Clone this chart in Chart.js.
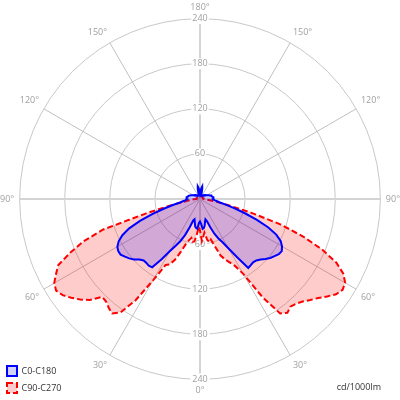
<!DOCTYPE html>
<html>
<head>
<meta charset="utf-8">
<script src="https://cdn.jsdelivr.net/npm/chart.js@4/dist/chart.umd.min.js"></script>
<style>
  html, body { margin: 0; padding: 0; background: #fff; }
  #wrap { width: 400px; height: 400px; }
</style>
</head>
<body>
<div id="wrap"><canvas id="polarChart"></canvas></div>
<script>
// gamma angle in degrees: 0 = straight down, 180 = straight up
const gamma = [0, 2.5, 5, 7.5, 10, 12.5, 15, 17.5, 20, 22.5,
  25, 27.5, 30, 32.5, 35, 37.5, 40, 42.5, 45, 47.5,
  50, 52.5, 55, 57.5, 60, 62.5, 65, 67.5, 70, 72.5,
  75, 77.5, 80, 82.5, 85, 87.5, 90, 92.5, 95, 97.5,
  100, 102.5, 105, 107.5, 110, 112.5, 115, 117.5, 120, 122.5,
  125, 127.5, 130, 132.5, 135, 137.5, 140, 142.5, 145, 147.5,
  150, 152.5, 155, 157.5, 160, 162.5, 165, 167.5, 170, 172.5,
  175, 177.5, 180];

// intensities in cd/1000lm, one value per gamma
const c0 = [30, 33, 40, 39, 36, 31, 28, 31, 40, 50,
  58, 65, 76, 92, 112, 111, 110, 111, 114, 118,
  122, 125, 128, 129, 126, 121, 112, 98, 80, 62,
  47, 36, 27, 23, 20, 18, 17, 18, 18, 18,
  17, 16, 16, 16, 14, 13, 12, 11, 10, 9,
  9, 8, 8, 7, 7, 6, 6, 6, 5, 5,
  5, 5, 5, 5, 5, 6, 9, 14, 17, 15,
  12, 9, 7];
const c180 = [30, 32, 40, 39, 37, 32, 28, 30, 40, 52,
  62, 70, 80, 95, 111, 112, 111, 111, 114, 119,
  123, 126, 129, 129, 127, 122, 114, 102, 85, 66,
  50, 37, 27, 23, 20, 18, 17, 18, 18, 18,
  17, 16, 16, 15, 14, 13, 12, 11, 10, 9,
  9, 8, 8, 7, 7, 6, 6, 6, 5, 5,
  5, 5, 5, 5, 5, 6, 9, 14, 17, 15,
  12, 9, 7];
const c90 = [42, 56, 50, 45, 55, 59, 56, 66, 80, 87,
  93, 100, 115, 155, 186, 191, 187, 189, 193, 199,
  205, 213, 221, 225, 223, 215, 200, 176, 146, 112,
  70, 40, 24, 15, 10, 7, 6, 5, 5, 5,
  4, 4, 4, 4, 4, 4, 4, 4, 4, 4,
  4, 4, 4, 4, 4, 4, 4, 4, 4, 4,
  4, 4, 4, 4, 4, 4, 4, 4, 4, 4,
  4, 4, 4];
const c270 = [42, 37, 47, 57, 58, 53, 57, 63, 75, 88,
  96, 99, 125, 160, 184, 192, 189, 185, 184, 199,
  208, 216, 223, 227, 224, 216, 208, 187, 165, 135,
  75, 42, 25, 16, 11, 8, 6, 5, 5, 5,
  4, 4, 4, 4, 4, 4, 4, 4, 4, 4,
  4, 4, 4, 4, 4, 4, 4, 4, 4, 4,
  4, 4, 4, 4, 4, 4, 4, 4, 4, 4,
  4, 4, 4];

const tickValues = [60, 120, 180, 240];
const angleMarks = [0, 30, 60, 90, 120, 150, 180];
const unitText = 'cd/1000lm';

// radar goes clockwise from the top: right half is 180 -> 0, left half 0 -> 180
const labels = gamma.slice().reverse().concat(gamma.slice(1, -1));
const halves = (right, left) => right.slice().reverse().concat(left.slice(1, -1));
const isMark = i => angleMarks.includes(labels[i]);
const isAxis = i => labels[i] % 90 === 0;

Chart.defaults.font.family = '"Open Sans", "DejaVu Sans", sans-serif';

const extras = {
  id: 'extras',
  beforeDatasetsDraw(chart) {
    // tick values repeated on the lower half of the vertical axis
    const s = chart.scales.r;
    const ctx = chart.ctx;
    ctx.save();
    ctx.font = '9px "Open Sans"';
    ctx.textAlign = 'center';
    ctx.textBaseline = 'middle';
    tickValues.forEach(v => {
      const y = s.yCenter + s.getDistanceFromCenterForValue(v);
      const w = ctx.measureText(String(v)).width;
      ctx.fillStyle = '#fff';
      ctx.fillRect(s.xCenter - w / 2 - 2, y - 6, w + 4, 12);
      ctx.fillStyle = '#a0a0a0';
      ctx.fillText(String(v), s.xCenter, y);
    });
    ctx.restore();
  },
  afterDraw(chart) {
    const ctx = chart.ctx;
    ctx.save();
    ctx.font = '9px "Open Sans"';
    ctx.fillStyle = '#333';
    ctx.textAlign = 'right';
    ctx.textBaseline = 'middle';
    ctx.fillText(unitText, 381, 387);
    ctx.restore();
  }
};

new Chart(document.getElementById('polarChart'), {
  type: 'radar',
  data: {
    labels: labels,
    datasets: [{
      label: 'C0-C180',
      data: halves(c0, c180),
      borderColor: '#0000ff',
      backgroundColor: 'rgba(0, 0, 255, 0.18)',
      borderWidth: 2,
      fill: true
    }, {
      label: 'C90-C270',
      data: halves(c90, c270),
      borderColor: '#ff0000',
      backgroundColor: 'rgba(255, 0, 0, 0.2)',
      borderWidth: 2,
      borderDash: [6, 3],
      fill: true
    }]
  },
  options: {
    responsive: true,
    maintainAspectRatio: false,
    animation: false,
    layout: { padding: { bottom: -7 } },
    elements: {
      point: { radius: 0, hoverRadius: 0 },
      line: { tension: 0 }
    },
    scales: {
      r: {
        min: 0,
        max: 240,
        startAngle: 0,
        ticks: {
          stepSize: 60,
          color: '#a0a0a0',
          font: { size: 9 },
          backdropColor: '#fff',
          backdropPadding: 1
        },
        grid: { circular: true, color: '#c8c8c8' },
        angleLines: {
          color: ctx => isAxis(ctx.index) ? '#d4d4d4' : '#c0c0c0',
          lineWidth: ctx => !isMark(ctx.index) ? 0 : (isAxis(ctx.index) ? 2 : 1)
        },
        pointLabels: {
          color: '#a0a0a0',
          font: { size: 9 },
          padding: 0,
          callback: (label) => angleMarks.includes(label) ? label + '°' : ''
        }
      }
    },
    plugins: {
      legend: {
        position: 'chartArea',
        align: 'end',
        labels: {
          boxWidth: 10,
          boxHeight: 10,
          padding: 7,
          color: '#333',
          font: { size: 9 }
        }
      },
      tooltip: { enabled: false }
    }
  },
  plugins: [extras]
});
</script>
</body>
</html>
